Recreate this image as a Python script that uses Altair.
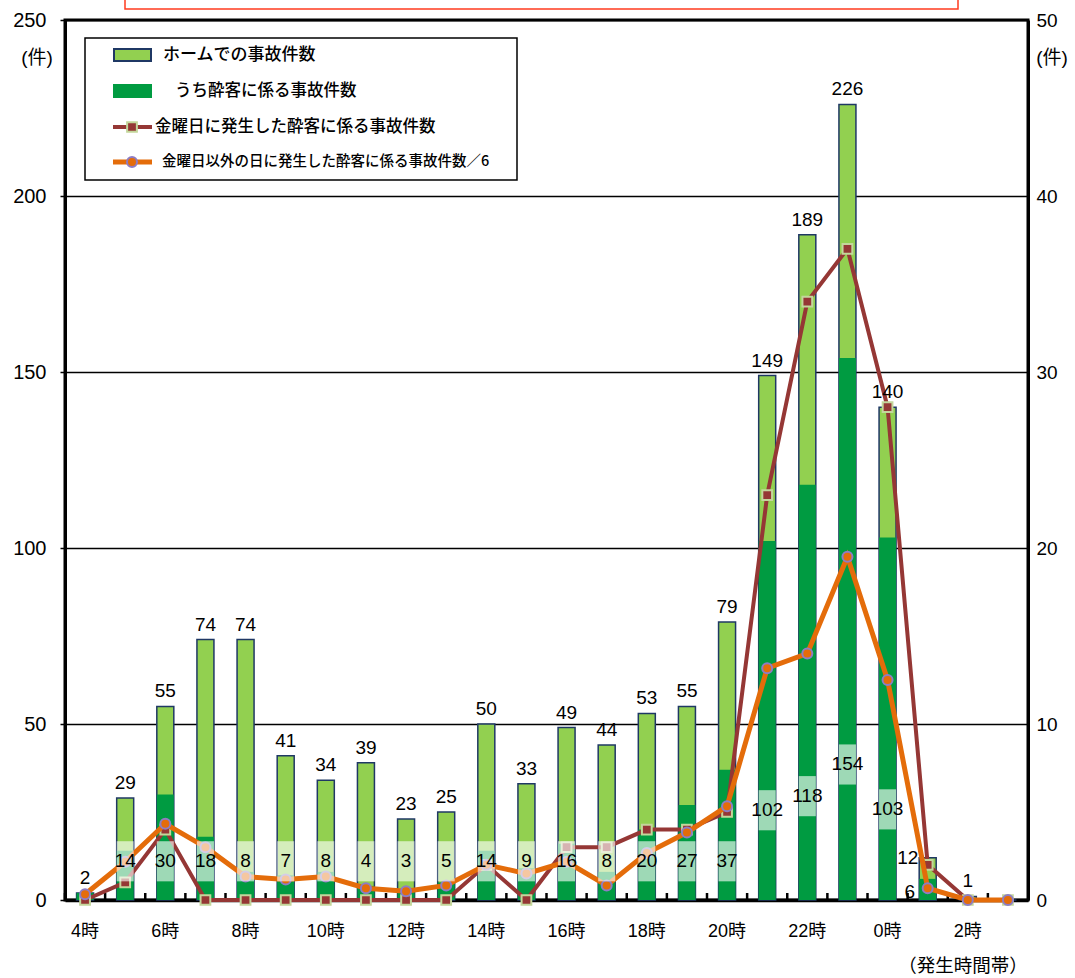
import altair as alt
import pandas as pd

# ---- data -------------------------------------------------------------
hours = ["4時", "5時", "6時", "7時", "8時", "9時", "10時", "11時", "12時", "13時",
         "14時", "15時", "16時", "17時", "18時", "19時", "20時", "21時", "22時",
         "23時", "0時", "1時", "2時", "3時"]
platform_total = [2, 29, 55, 74, 74, 41, 34, 39, 23, 25, 50, 33, 49, 44, 53, 55,
                  79, 149, 189, 226, 140, 12, 1, 0]
drunk_total = [2, 14, 30, 18, 8, 7, 8, 4, 3, 5, 14, 9, 16, 8, 20, 27, 37, 102,
               118, 154, 103, 6, 0, 0]
friday_drunk = [0, 1, 4, 0, 0, 0, 0, 0, 0, 0, 2, 0, 3, 3, 4, 4, 5, 23, 34, 37,
                28, 2, 0, 0]
other_days_drunk_div6 = [0.33, 2.17, 4.33, 3.0, 1.33, 1.17, 1.33, 0.67, 0.5, 0.83,
                         2.0, 1.5, 2.17, 0.83, 2.67, 3.83, 5.33, 13.17, 14.0, 19.5,
                         12.5, 0.67, 0, 0]
hour_labels_shown = ["4時", "6時", "8時", "10時", "12時", "14時", "16時", "18時",
                     "20時", "22時", "0時", "2時"]
left_ticks = [0, 50, 100, 150, 200, 250]
right_ticks = [0, 10, 20, 30, 40, 50]
legend_items = ["ホームでの事故件数",
                "うち酔客に係る事故件数",
                "金曜日に発生した酔客に係る事故件数",
                "金曜日以外の日に発生した酔客に係る事故件数／6"]

df = pd.DataFrame({
    "hour": hours,
    "total": platform_total,
    "drunk": drunk_total,
    "friday": friday_drunk,
    "other6": other_days_drunk_div6,
})

# ---- styling ------------------------------------------------------------
W, H = 963, 880
NUM_FONT = "Liberation Sans, Noto Sans CJK JP, sans-serif"
JP_FONT = "Noto Sans CJK JP, sans-serif"
LIGHT_GREEN = "#92D050"
DARK_GREEN = "#009B41"
NAVY = "#1F3864"
BROWN = "#953735"
ORANGE = "#E46C0A"

base = alt.Chart(df)
x_axis = alt.Axis(values=hour_labels_shown, labelAngle=0, title=None, tickSize=0,
                  bandPosition=0.5, domainColor="black", domainWidth=3.5,
                  labelFont=NUM_FONT, labelFontSize=18, labelColor="black",
                  labelPadding=22)
x_enc = alt.X("hour:N", sort=hours, scale=alt.Scale(paddingInner=0, paddingOuter=0),
              axis=x_axis)
y_left = alt.Scale(domain=[0, 250], nice=False, zero=True)
y_right = alt.Scale(domain=[0, 50], nice=False, zero=True)

left_axis = alt.Axis(values=left_ticks, title=None, grid=True, gridColor="black",
                     gridWidth=1.5, domainColor="black", domainWidth=3,
                     tickColor="black", tickSize=5, tickWidth=1.5,
                     labelFont=NUM_FONT, labelFontSize=20, labelColor="black",
                     labelPadding=14)
right_axis = alt.Axis(values=right_ticks, orient="right", title=None, grid=False,
                      domainColor="black", domainWidth=3, tickSize=0,
                      labelFont=NUM_FONT, labelFontSize=19, labelColor="black",
                      labelPadding=8)

# bars: all accidents on platforms, and the drunk-related part
total_bars = base.mark_bar(size=17, color=LIGHT_GREEN, stroke=NAVY,
                           strokeWidth=1.5).encode(
    x=x_enc, y=alt.Y("total:Q", scale=y_left, axis=left_axis))
drunk_bars = base.mark_bar(size=17, color=DARK_GREEN).encode(
    x=x_enc, y=alt.Y("drunk:Q", scale=y_left, axis=None))

# small inward ticks on the category boundaries
ticks = base.mark_rule(color="black", strokeWidth=2.5).encode(
    x=alt.X("hour:N", sort=hours, bandPosition=0,
            scale=alt.Scale(paddingInner=0, paddingOuter=0), axis=x_axis),
    y=alt.value(H - 7), y2=alt.value(H))

# secondary-axis lines
fri_line = base.mark_line(color=BROWN, strokeWidth=4).encode(
    x=x_enc, y=alt.Y("friday:Q", scale=y_right, axis=right_axis))
fri_pts = base.mark_point(shape="square", filled=True, size=95, fill=BROWN,
                          stroke="#C3D69B", strokeWidth=2, opacity=1).encode(
    x=x_enc, y=alt.Y("friday:Q", scale=y_right, axis=None))
oth_line = base.mark_line(color=ORANGE, strokeWidth=5).encode(
    x=x_enc, y=alt.Y("other6:Q", scale=y_right, axis=None))
oth_pts = base.mark_point(shape="circle", filled=True, size=100, fill=ORANGE,
                          stroke="#8E7CC3", strokeWidth=2, opacity=1).encode(
    x=x_enc, y=alt.Y("other6:Q", scale=y_right, axis=None))

# drunk-count labels sit on translucent boxes inside the bars
labelled = base.transform_filter("datum.drunk > 2 && datum.total >= 20").transform_calculate(
    lab="datum.drunk < 50 ? 11 : datum.drunk / 4",
    lo="(datum.drunk < 50 ? 11 : datum.drunk / 4) - 5.7",
    hi="(datum.drunk < 50 ? 11 : datum.drunk / 4) + 5.7",
)
label_boxes = labelled.mark_bar(size=17, color="white", opacity=0.62).encode(
    x=x_enc, y=alt.Y("lo:Q", scale=y_left, axis=None), y2="hi:Q")
drunk_labels = labelled.mark_text(font=NUM_FONT, fontSize=19, color="black",
                                  baseline="middle").encode(
    x=x_enc, y=alt.Y("lab:Q", scale=y_left, axis=None), text="drunk:Q")

# for the very short bars the labels are set to the left of the bar
short = base.transform_filter("datum.drunk > 2 && datum.total < 20")
short_drunk_labels = short.mark_text(font=NUM_FONT, fontSize=19, color="black",
                                     baseline="bottom", dx=-18, dy=2).encode(
    x=x_enc, y=alt.Y("zero_at:Q", scale=y_left, axis=None), text="drunk:Q"
).transform_calculate(zero_at="0")
short_total_labels = short.mark_text(font=NUM_FONT, fontSize=19, color="black",
                                     baseline="middle", dx=-20).encode(
    x=x_enc, y=alt.Y("total:Q", scale=y_left, axis=None), text="total:Q")

total_labels = base.transform_filter(
    "datum.total > 0 && (datum.total >= 20 || datum.drunk <= 2)").mark_text(
    font=NUM_FONT, fontSize=19, color="black", baseline="bottom", dy=-5).encode(
    x=x_enc, y=alt.Y("total:Q", scale=y_left, axis=None), text="total:Q")

# ---- hand-drawn legend -----------------------------------------------------
one = alt.Data(values=[{}])
lg = []
lg.append(alt.Chart(one).mark_rect(fill="white", stroke="black", strokeWidth=1.5)
          .encode(x=alt.value(20), x2=alt.value(452), y=alt.value(18), y2=alt.value(160)))
lg.append(alt.Chart(one).mark_rect(fill=LIGHT_GREEN, stroke=NAVY, strokeWidth=2)
          .encode(x=alt.value(49), x2=alt.value(86), y=alt.value(29), y2=alt.value(41)))
lg.append(alt.Chart(one).mark_rect(fill=DARK_GREEN)
          .encode(x=alt.value(48), x2=alt.value(87), y=alt.value(64), y2=alt.value(78)))
lg.append(alt.Chart(one).mark_rule(color=BROWN, strokeWidth=4)
          .encode(x=alt.value(48), x2=alt.value(87), y=alt.value(107)))
lg.append(alt.Chart(one).mark_point(shape="square", filled=True, size=95, fill=BROWN,
                                    stroke="#C3D69B", strokeWidth=2, opacity=1)
          .encode(x=alt.value(67), y=alt.value(107)))
lg.append(alt.Chart(one).mark_rule(color=ORANGE, strokeWidth=5)
          .encode(x=alt.value(48), x2=alt.value(87), y=alt.value(142)))
lg.append(alt.Chart(one).mark_point(shape="circle", filled=True, size=100, fill=ORANGE,
                                    stroke="#8E7CC3", strokeWidth=2, opacity=1)
          .encode(x=alt.value(67), y=alt.value(142)))
for txt, xpos, ypos, fs in [(legend_items[0], 98, 35, 17),
                            (legend_items[1], 110, 71, 16.5),
                            (legend_items[2], 90, 107, 16.5),
                            (legend_items[3], 97, 142, 14.5)]:
    lg.append(alt.Chart(one).mark_text(text=txt, font=JP_FONT, fontSize=fs,
                                       fontWeight=500, color="black", align="left",
                                       baseline="middle")
              .encode(x=alt.value(xpos), y=alt.value(ypos)))

# axis units and the x-axis caption
notes = [
    alt.Chart(one).mark_text(text="(件)", font=NUM_FONT, fontSize=19, color="black",
                             align="center", baseline="middle")
    .encode(x=alt.value(-28), y=alt.value(38)),
    alt.Chart(one).mark_text(text="(件)", font=NUM_FONT, fontSize=19, color="black",
                             align="center", baseline="middle")
    .encode(x=alt.value(987), y=alt.value(38)),
    alt.Chart(one).mark_text(text="（発生時間帯）", font=JP_FONT, fontSize=18.5,
                             color="black", align="center", baseline="middle")
    .encode(x=alt.value(898), y=alt.value(946)),
    # edge of the caption box that sits above the chart
    alt.Chart(one).mark_rect(fill="transparent", stroke="#FF3B1F", strokeWidth=1.5)
    .encode(x=alt.value(60), x2=alt.value(893), y=alt.value(-40), y2=alt.value(-11)),
]

chart = alt.layer(
    total_bars, drunk_bars, ticks, fri_line, fri_pts, oth_line, oth_pts,
    label_boxes, drunk_labels, short_drunk_labels, short_total_labels, total_labels,
    *lg, *notes,
).resolve_scale(y="independent").properties(
    width=W, height=H,
    padding={"left": 65, "top": 20, "right": 47, "bottom": 78},
    autosize=alt.AutoSizeParams(type="none"),
).configure_view(stroke="black", strokeWidth=3)

chart.save("out.html", embed_options={"renderer": "svg", "actions": False})
